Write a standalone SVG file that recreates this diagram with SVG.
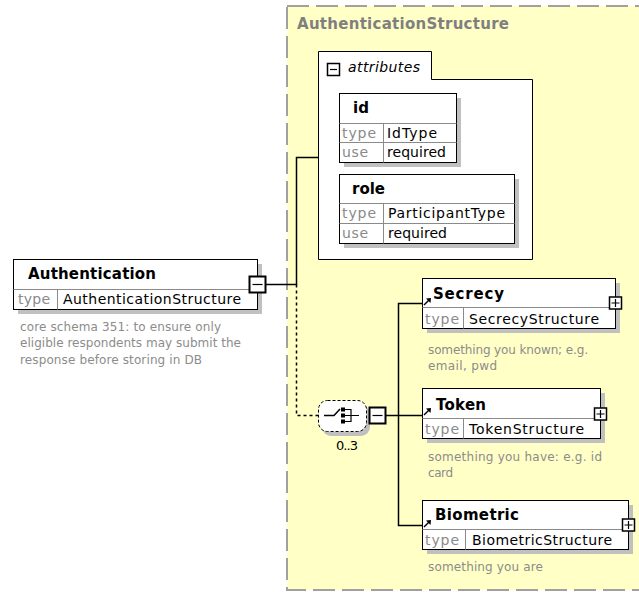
<svg xmlns="http://www.w3.org/2000/svg" width="639" height="592" viewBox="0 0 639 592">
<defs>
<style>
text{font-family:"DejaVu Sans","Liberation Sans",sans-serif}
.name{font-weight:bold;font-size:15px;fill:#000}
.lbl{font-size:14px;fill:#8a8a8a}
.val{font-size:14px;fill:#000}
.desc{font-size:12px;fill:#8c8c8c}
.title{font-weight:bold;font-size:15px;fill:#7f7f7f}
.box{fill:#fff;stroke:#000;stroke-width:1}
.shadow{fill:#c0c0c0}
.sep{stroke:#8a8a8a;stroke-width:1}
.conn{fill:none;stroke:#000;stroke-width:1.5}
.dash{stroke-dasharray:3 3}
.icon{fill:none;stroke:#000;stroke-width:1.5}
</style>
<g id="plusBox">
<rect x="-6" y="-6" width="12" height="12" fill="#fff" stroke="#000" stroke-width="1.5"/>
<path d="M-4 0H4M0 -4V4" stroke="#000" stroke-width="1.2"/>
</g>
<g id="minusBig">
<rect x="-8" y="-8" width="16" height="16" fill="#fff" stroke="#000" stroke-width="2"/>
<path d="M-5 0H5" stroke="#000" stroke-width="1.2"/>
</g>
<g id="refArrow">
<path d="M0 7L5 2" stroke="#000" stroke-width="1.5"/>
<polygon points="7,0 2,0.5 6.5,5" fill="#000"/>
</g>
</defs>

<g id="complexType-AuthenticationStructure">
<rect x="287" y="6" width="370" height="584" fill="#ffffc6" stroke="#a0a0a0" stroke-width="2" stroke-dasharray="22 7"/>
<text class="title" x="297" y="29" textLength="212">AuthenticationStructure</text>
</g>

<g id="attributes">
<path d="M318.5 51.5H431.5V79.5H532.5V259.5H318.5Z" fill="#fff" stroke="#000" stroke-width="1"/>
<rect x="327.5" y="63.5" width="12" height="12" fill="#fff" stroke="#000" stroke-width="1.5"/>
<path d="M330 69.5H337" stroke="#000" stroke-width="1.2"/>
<text x="348" y="72" font-size="14" font-style="italic" textLength="72" fill="#000">attributes</text>
</g>

<g id="attr-id">
<rect class="shadow" x="344" y="98" width="117" height="69"/>
<rect class="box" x="339.5" y="93.5" width="117" height="69"/>
<path class="sep" d="M339.5 123.5H456.5M339.5 142.5H456.5M383.5 123.5V162.5"/>
<text class="name" x="353" y="113">id</text>
<text class="lbl" x="342" y="138" textLength="34">type</text>
<text class="val" x="387" y="138" textLength="50">IdType</text>
<text class="lbl" x="342" y="157" textLength="26">use</text>
<text class="val" x="387" y="157" textLength="59">required</text>
</g>

<g id="attr-role">
<rect class="shadow" x="344" y="179" width="175" height="69"/>
<rect class="box" x="339.5" y="174.5" width="175" height="69"/>
<path class="sep" d="M339.5 203.5H514.5M339.5 223.5H514.5M383.5 203.5V243.5"/>
<text class="name" x="352" y="194" textLength="33">role</text>
<text class="lbl" x="342" y="218" textLength="34">type</text>
<text class="val" x="388" y="218" textLength="117">ParticipantType</text>
<text class="lbl" x="342" y="238" textLength="26">use</text>
<text class="val" x="388" y="238" textLength="59">required</text>
</g>

<g id="connectors">
<path class="conn" d="M266 284.5H296.5V157.5H318"/>
<path class="conn dash" d="M296.5 284.5V415.5H318"/>
<path class="conn" d="M386 415.5H422"/>
<path class="conn" d="M422 303.5H398.5V525.5H422"/>
</g>

<g id="node-Authentication">
<rect class="shadow" x="18" y="264" width="244" height="50"/>
<rect class="box" x="13.5" y="259.5" width="244" height="50"/>
<path class="sep" d="M13.5 289.5H257.5M57.5 289.5V309.5"/>
<text class="name" x="28" y="279" textLength="128">Authentication</text>
<text class="lbl" x="18" y="304" textLength="32">type</text>
<text class="val" x="63" y="304" textLength="178">AuthenticationStructure</text>
<use href="#minusBig" transform="translate(257.5,284.5)"/>
<text class="desc" x="20" y="331" textLength="201">core schema 351: to ensure only</text>
<text class="desc" x="20" y="347" textLength="221">eligible respondents may submit the</text>
<text class="desc" x="20" y="364" textLength="182">response before storing in DB</text>
</g>

<g id="sequence">
<rect x="322" y="405" width="48" height="31" rx="9" fill="#c0c0c0"/>
<rect x="318.5" y="400.5" width="48" height="31" rx="9" fill="#fff" stroke="#000" stroke-width="1" stroke-dasharray="3 2"/>
<path class="icon" d="M324 415.5H334L340 409"/>
<rect x="341" y="407.5" width="4" height="4" fill="#000"/>
<rect x="341" y="413.5" width="4" height="4" fill="#000"/>
<rect x="341" y="419.5" width="4" height="4" fill="#000"/>
<path d="M345 409.5H351V421.5H345M345 415.5H359" fill="none" stroke="#000" stroke-width="1.2"/>
<use href="#minusBig" transform="translate(377.5,415.5)"/>
<text x="336" y="450" font-size="13" textLength="22" fill="#000">0..3</text>
</g>

<g id="node-Secrecy">
<rect class="shadow" x="427" y="283" width="193" height="50"/>
<rect class="box" x="422.5" y="278.5" width="193" height="50"/>
<path class="sep" d="M422.5 307.5H615.5M463.5 307.5V328.5"/>
<use href="#refArrow" transform="translate(424,298)"/>
<text class="name" x="433" y="299" textLength="71">Secrecy</text>
<text class="lbl" x="425" y="324" textLength="34">type</text>
<text class="val" x="469" y="324" textLength="130">SecrecyStructure</text>
<use href="#plusBox" transform="translate(615.5,303)"/>
<text class="desc" x="428" y="354" textLength="160">something you known; e.g.</text>
<text class="desc" x="428" y="370" textLength="69">email, pwd</text>
</g>

<g id="node-Token">
<rect class="shadow" x="427" y="393" width="178" height="50"/>
<rect class="box" x="422.5" y="388.5" width="178" height="50"/>
<path class="sep" d="M422.5 418.5H600.5M463.5 418.5V438.5"/>
<use href="#refArrow" transform="translate(424,408)"/>
<text class="name" x="436" y="410" textLength="50">Token</text>
<text class="lbl" x="425" y="434" textLength="34">type</text>
<text class="val" x="469" y="434" textLength="115">TokenStructure</text>
<use href="#plusBox" transform="translate(600.5,414)"/>
<text class="desc" x="428" y="461" textLength="174">something you have: e.g. id</text>
<text class="desc" x="428" y="477" textLength="25">card</text>
</g>

<g id="node-Biometric">
<rect class="shadow" x="427" y="505" width="206" height="49"/>
<rect class="box" x="422.5" y="500.5" width="206" height="49"/>
<path class="sep" d="M422.5 529.5H628.5M465.5 529.5V549.5"/>
<use href="#refArrow" transform="translate(424,520)"/>
<text class="name" x="435" y="520" textLength="84">Biometric</text>
<text class="lbl" x="425" y="545" textLength="34">type</text>
<text class="val" x="472" y="545" textLength="140">BiometricStructure</text>
<use href="#plusBox" transform="translate(628.5,525)"/>
<text class="desc" x="428" y="571" textLength="115">something you are</text>
</g>
</svg>
